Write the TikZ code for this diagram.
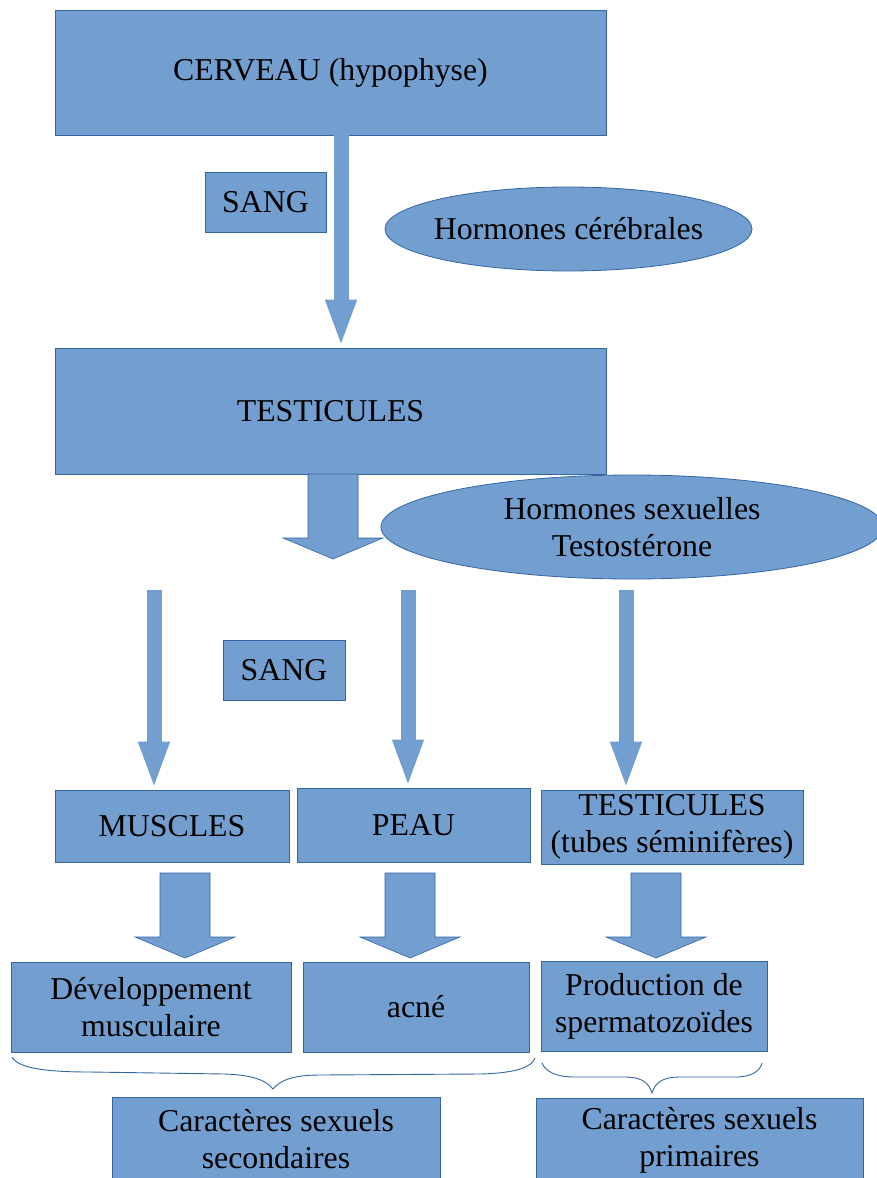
\documentclass[tikz,border=0pt]{standalone}
\usepackage{fontspec}
\setmainfont{Liberation Serif}
\usetikzlibrary{shapes.geometric,arrows.meta,positioning}
\definecolor{bleu}{HTML}{729FCF}
\definecolor{bord}{HTML}{3465A4}

\begin{document}
\begin{tikzpicture}[x=1pt,y=-1pt,
    texte/.style={align=center,inner sep=0pt,font=\fontsize{31.8}{37}\selectfont},
    boite/.style={texte,draw=bord,line width=0.8pt,fill=bleu},
    bulle/.style={draw=bord,line width=0.8pt,fill=bleu},
    fin/.style={draw=bleu,line width=15pt,-{Triangle[width=28pt,length=48pt]}},
    grosse/.style={draw=bord,line width=0.6pt,fill=bleu},
    accolade/.style={draw=bord,line width=0.9pt}]
        \useasboundingbox (0,0) rectangle (877,1178);

        % top part
        \node[boite,minimum width=551pt,minimum height=125pt] (cerveau) at (330.5,72.5) {CERVEAU (hypophyse)};
        \node[boite,minimum width=121pt,minimum height=60pt] (sang1) at (265.5,202) {SANG};
        \draw[bulle] (568.5,229) ellipse [x radius=183.5, y radius=42];
        \node[texte] (hc) at (568.5,229) {Hormones cérébrales};
        \node[boite,minimum width=551pt,minimum height=126pt] (testicules) at (330.5,411) {TESTICULES};

        \coordinate (h1) at (341,135);
        \draw[fin] (h1) -- (h1 |- testicules.north);

        % testosterone
        \draw[bulle] (632,527) ellipse [x radius=251, y radius=52];
        \node[texte] (hs) at (632,527) {Hormones sexuelles\\Testostérone};
        \node[boite,minimum width=122pt,minimum height=60pt] (sang2) at (284,670) {SANG};

        % organes cibles
        \node[boite,minimum width=234pt,minimum height=72pt] (muscles) at (172,826) {MUSCLES};
        \node[boite,minimum width=233pt,minimum height=74pt] (peau) at (413.5,825) {PEAU};
        \node[boite,minimum width=262pt,minimum height=74pt] (tubes) at (672,827) {TESTICULES\\(tubes séminifères)};

        \coordinate (d1) at (154,590);
        \coordinate (d2) at (408,590);
        \coordinate (d3) at (626,590);
        \draw[fin] (d1) -- (d1 |- muscles.north);
        \draw[fin] (d2) -- (d2 |- peau.north);
        \draw[fin] (d3) -- (d3 |- tubes.north);

        % effets
        \node[boite,minimum width=280pt,minimum height=90pt] (dev) at (151,1007) {Développement\\musculaire};
        \node[boite,minimum width=226pt,minimum height=90pt] (acne) at (416,1007) {acné};
        \node[boite,minimum width=226pt,minimum height=90pt] (prod) at (654,1006) {Production de\\spermatozoïdes};

        % block arrows
        \foreach \cx/\yt in {333/474,185/873,410/873,656/873}
          \draw[grosse] ({\cx-25},\yt) -- ({\cx+25},\yt) -- ({\cx+25},{\yt+64}) -- ({\cx+50},{\yt+64})
            -- (\cx,{\yt+85}) -- ({\cx-50},{\yt+64}) -- ({\cx-25},{\yt+64}) -- cycle;

        % accolades
        \draw[accolade] (12,1057) .. controls (18,1068) and (45,1072) .. (90,1072) -- (225,1074)
          .. controls (252,1075) and (266,1080) .. (273,1089)
          .. controls (280,1080) and (294,1075) .. (320,1075) -- (480,1074)
          .. controls (520,1073) and (532,1066) .. (535,1058);
        \draw[accolade] (542,1063) .. controls (546,1072) and (556,1077) .. (575,1077) -- (625,1077)
          .. controls (642,1077) and (649,1083) .. (652,1093)
          .. controls (655,1083) and (662,1077) .. (680,1077) -- (735,1077)
          .. controls (752,1077) and (760,1071) .. (762,1063);

        % caracteres
        \node[boite,minimum width=328pt,minimum height=84pt] (secondaires) at (276,1139) {Caractères sexuels\\secondaires};
        \node[boite,minimum width=327pt,minimum height=84pt] (primaires) at (699.5,1140) {Caractères sexuels\\primaires};

    \end{tikzpicture}
\end{document}
